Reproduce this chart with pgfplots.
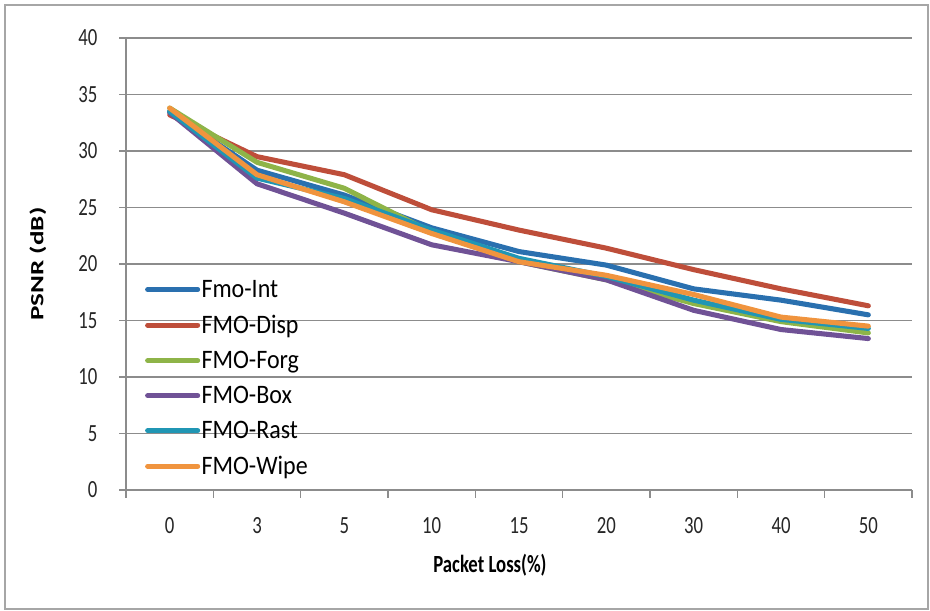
\documentclass[border=0pt]{standalone}
\usepackage{pgfplots}
\pgfplotsset{compat=1.18}
\usepackage{fontspec}
\setmainfont{Carlito}
\newfontfamily\narrowfont[FakeStretch=0.76]{Carlito}
\newfontfamily\xlabelfont[FakeStretch=0.76]{Carlito}
\newfontfamily\ylabelfont[FakeStretch=1.45]{Carlito}
\newfontfamily\legfont[FakeStretch=0.9]{Carlito}
\definecolor{cInt}{RGB}{42,112,175}
\definecolor{cDisp}{RGB}{190,78,58}
\definecolor{cForg}{RGB}{142,180,72}
\definecolor{cBox}{RGB}{112,82,150}
\definecolor{cRast}{RGB}{32,150,180}
\definecolor{cWipe}{RGB}{240,148,62}
\definecolor{gridc}{RGB}{140,140,140}
\begin{document}
\begin{tikzpicture}
\begin{axis}[
  name=ax,
  scale only axis,
  width=589.5pt, height=339pt,
  xmin=-0.5, xmax=8.5, ymin=0, ymax=40,
  axis x line=bottom, axis y line=left,
  axis line style={gridc, line width=0.8pt, -},
  xtick={0,...,8},
  xticklabels={0,3,5,10,15,20,30,40,50},
  major x tick style={draw=none},
  minor xtick={-0.5,0.5,...,8.5},
  minor x tick style={gridc, line width=0.8pt},
  minor tick length=6pt,
  ytick={0,5,...,40},
  major y tick style={gridc, line width=0.8pt},
  major tick length=5pt,
  tick align=outside,
  ymajorgrids,
  grid style={gridc, line width=0.8pt},
  tick label style={font=\narrowfont\fontsize{18.5}{20}\selectfont, text=black!85},
  /pgf/number format/assume math mode=true,
  xticklabel style={yshift=-12pt},
  yticklabel style={xshift=-13pt},
  xlabel={\textbf{Packet Loss(\%)}},
  ylabel={\textbf{PSNR (dB)}},
  xlabel style={font=\xlabelfont\fontsize{18.5}{20}\selectfont, at={(axis description cs:0.463,-0.166)}, anchor=center},
  ylabel style={font=\ylabelfont\fontsize{14}{16}\selectfont, at={(axis description cs:-0.112,0.5)}, anchor=center},
  legend style={at={(axis description cs:0.024,0.468)}, anchor=north west, draw=none, fill=none,
    font=\legfont\fontsize{20}{22}\selectfont, row sep=9.8pt, inner sep=0pt,
    nodes={inner sep=1pt}},
  legend cell align=left,
  legend image code/.code={\draw[#1, line width=3.8pt] (0pt,0pt) -- (37.5pt,0pt);},
  every axis plot/.append style={line width=3.8pt, line join=round, line cap=round, mark=none},
  clip=false,
]
\addplot[cInt] coordinates {(0,33.5) (1,28.3) (2,26.1) (3,23.2) (4,21.1) (5,19.9) (6,17.8) (7,16.8) (8,15.5)};
\addlegendentry{Fmo-Int}
\addplot[cDisp] coordinates {(0,33.2) (1,29.5) (2,27.9) (3,24.8) (4,23.0) (5,21.4) (6,19.5) (7,17.8) (8,16.3)};
\addlegendentry{FMO-Disp}
\addplot[cForg] coordinates {(0,33.8) (1,29.0) (2,26.7) (3,22.8) (4,20.2) (5,18.6) (6,16.5) (7,14.9) (8,13.9)};
\addlegendentry{FMO-Forg}
\addplot[cBox] coordinates {(0,33.4) (1,27.1) (2,24.5) (3,21.7) (4,20.2) (5,18.6) (6,15.9) (7,14.2) (8,13.4)};
\addlegendentry{FMO-Box}
\addplot[cRast] coordinates {(0,33.5) (1,27.6) (2,25.8) (3,23.0) (4,20.5) (5,18.9) (6,16.8) (7,15.1) (8,14.3)};
\addlegendentry{FMO-Rast}
\addplot[cWipe] coordinates {(0,33.8) (1,27.9) (2,25.5) (3,22.7) (4,20.2) (5,19.0) (6,17.3) (7,15.3) (8,14.5)};
\addlegendentry{FMO-Wipe}
\end{axis}
\useasboundingbox ([xshift=-94.5pt,yshift=-90.75pt]ax.south west) rectangle ([xshift=13.5pt,yshift=28.5pt]ax.north east);
\draw[gray!70, line width=1.6pt] ([xshift=-90.75pt,yshift=-89pt]ax.south west) rectangle ([xshift=12pt,yshift=24.75pt]ax.north east);
\end{tikzpicture}
\end{document}
